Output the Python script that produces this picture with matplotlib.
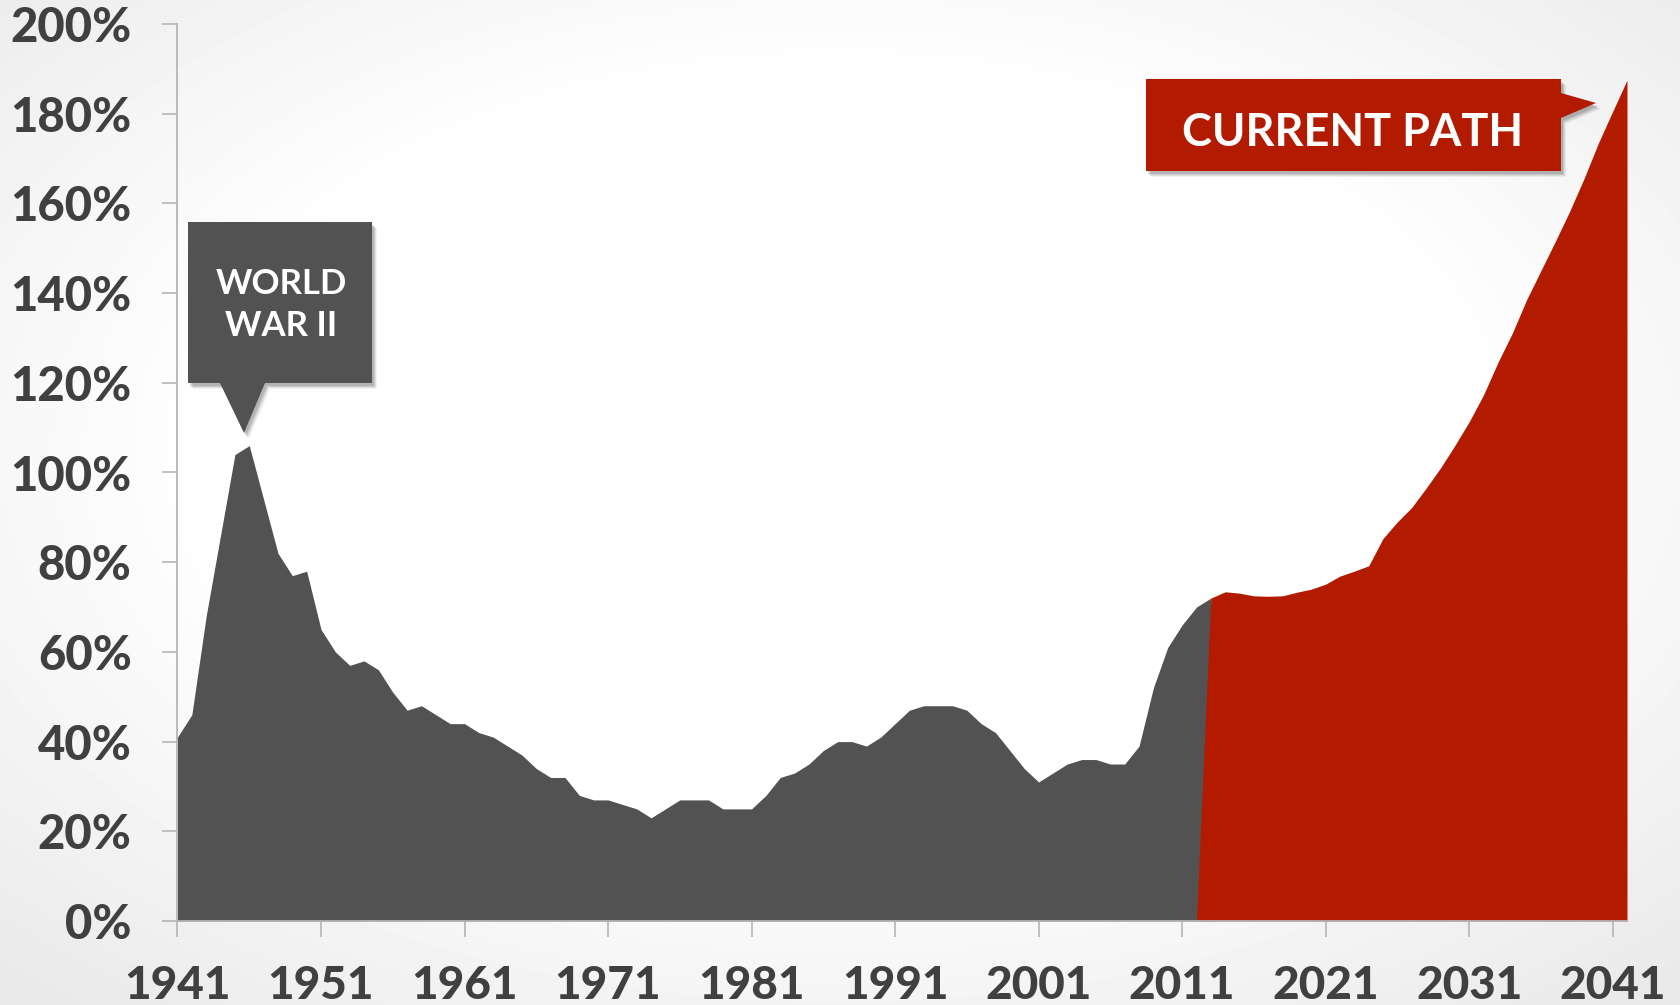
import numpy as np
import matplotlib
matplotlib.use("Agg")
import matplotlib.pyplot as plt
from matplotlib.patches import Polygon

# ---------------- data ----------------
hist_years = list(range(1941, 2014))
hist_debt = [41, 46, 68, 86, 104, 106, 94, 82, 77, 78,
             65, 60, 57, 58, 56, 51, 47, 48, 46, 44,
             44, 42, 41, 39, 37, 34, 32, 32, 28, 27,
             27, 26, 25, 23, 25, 27, 27, 27, 25, 25,
             25, 28, 32, 33, 35, 38, 40, 40, 39, 41,
             44, 47, 48, 48, 48, 47, 44, 42, 38, 34,
             31, 33, 35, 36, 36, 35, 35, 39, 52, 61,
             66, 70, 72]

proj_years = list(range(2012, 2043))
proj_debt = [0, 72, 73.4, 73.1, 72.5, 72.4, 72.5, 73.3, 74.0, 75.1,
             76.9, 78.0, 79.2, 85.3, 89, 92.2, 96.5, 101, 106, 111.3,
             117.3, 124.5, 131, 138.5, 145, 151.5, 158.2, 165.5, 173.4, 180.5,
             187.5]

y_ticks = list(range(0, 201, 20))
y_labels = [f"{v}%" for v in y_ticks]
x_ticks = list(range(1941, 2042, 10))
x_labels = [str(v) for v in x_ticks]

label_ww2 = "WORLD\nWAR II"
label_path = "CURRENT PATH"

# ---------------- style ----------------
GRAY = "#525252"
RED = "#b21b00"
TXT = "#404040"
AXC = "#b5b5b5"
FONT = "Lato"

W, H = 1681, 1005
fig = plt.figure(figsize=(W / 100, H / 100), dpi=100)

# background radial gradient
bg = fig.add_axes([0, 0, 1, 1], zorder=-10)
yy, xx = np.mgrid[0:1:200j, 0:1:340j]
r = np.sqrt(((xx - 0.5) / 0.62) ** 2 + ((yy - 0.45) / 0.62) ** 2)
shade = 1.0 - 0.09 * np.clip((r - 0.6) / 0.6, 0, 1)
bg.imshow(shade, cmap="gray", vmin=0, vmax=1, aspect="auto", extent=[0, 1, 0, 1],
          interpolation="bicubic")
bg.axis("off")


def fx(px):
    return px / W


def fy(py):
    return 1 - py / H


left, right, top, bottom = 177.5, 1627.0, 24.0, 921.0
ax = fig.add_axes([fx(left), fy(bottom), fx(right - left), (bottom - top) / H])
ax.patch.set_alpha(0)

ax.fill_between(hist_years, hist_debt, 0, color=GRAY, lw=0, zorder=2)
ax.fill_between(proj_years, proj_debt, 0, color=RED, lw=0, zorder=3)

ax.set_xlim(1941, 2042)
ax.set_ylim(0, 200)
ax.set_yticks(y_ticks)
ax.set_yticklabels(y_labels)
ax.set_xticks(x_ticks)
ax.set_xticklabels(x_labels)

for s in ["top", "right"]:
    ax.spines[s].set_visible(False)
for s in ["left", "bottom"]:
    ax.spines[s].set_color(AXC)
    ax.spines[s].set_linewidth(1.3)
    ax.spines[s].set_zorder(5)

ax.tick_params(axis="y", length=11, width=1.2, color=AXC, pad=22,
               labelsize=34, labelcolor=TXT)
ax.tick_params(axis="x", length=11.5, width=1.2, color=AXC, pad=20,
               labelsize=33, labelcolor=TXT)
for lab in ax.get_xticklabels() + ax.get_yticklabels():
    lab.set_fontfamily(FONT)
    lab.set_fontweight("black")


def callout(points, color, z=20):
    pts = [(fx(x), fy(y)) for x, y in points]
    for dx, dy, a in [(5, 6, 0.05), (4, 5, 0.07), (3, 4, 0.09), (2, 3, 0.11)]:
        sh = [(fx(x + dx), fy(y + dy)) for x, y in points]
        fig.patches.append(Polygon(sh, closed=True, transform=fig.transFigure,
                                   facecolor="black", alpha=a, lw=0, zorder=z - 1))
    fig.patches.append(Polygon(pts, closed=True, transform=fig.transFigure,
                               facecolor=color, lw=0, zorder=z))


# World War II callout
ww2 = [(188, 222), (372, 222), (372, 383), (265, 383), (244, 433), (220, 383), (188, 383)]
callout(ww2, GRAY)
fig.text(fx(281), fy(305), label_ww2, ha="center", va="center", color="white",
         fontsize=25, fontweight="bold", family=FONT, linespacing=1.42, zorder=30)

# Current path callout
cp = [(1146, 79), (1561, 79), (1561, 93), (1596, 103), (1561, 118), (1561, 171), (1146, 171)]
callout(cp, RED)
fig.text(fx(1353), fy(146), label_path, ha="center", va="baseline", color="white",
         fontsize=32.5, fontweight="bold", family=FONT, zorder=30)

fig.savefig("out.png", dpi=100)
